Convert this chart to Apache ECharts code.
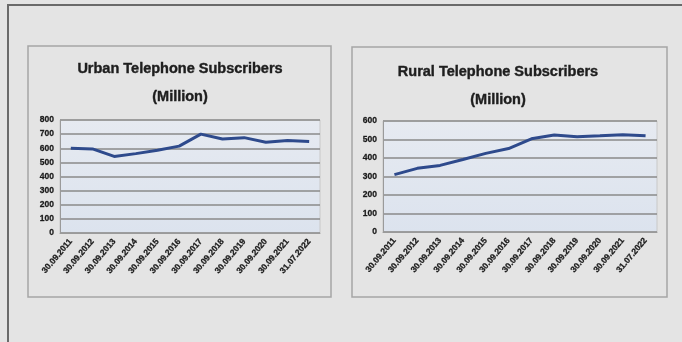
<!DOCTYPE html>
<html><head><meta charset="utf-8">
<script src="https://cdn.jsdelivr.net/npm/echarts@6/dist/echarts.min.js"></script>
<style>html,body{margin:0;padding:0;background:#e4e4e4}#c{width:682px;height:342px}</style>
</head><body><div id="c"></div>
<script>
const categories = ["30.09.2011","30.09.2012","30.09.2013","30.09.2014","30.09.2015","30.09.2016","30.09.2017","30.09.2018","30.09.2019","30.09.2020","30.09.2021","31.07.2022"];
const urbanValues = [600, 595, 542, 562, 586, 615, 700, 665, 675, 643, 655, 648];
const ruralValues = [310, 344, 360, 392, 425, 451, 504, 524, 515, 520, 526, 520];
const urbanTitle = "Urban Telephone Subscribers\n(Million)";
const ruralTitle = "Rural Telephone Subscribers\n(Million)";

const chart = echarts.init(document.getElementById('c'), null, {renderer:'canvas'});
const FONT = "'Liberation Sans', Arial, sans-serif";
const lineColor = '#2e4a8c';
function xAxis(i){return {type:'category', gridIndex:i, data:categories, boundaryGap:true,
  axisLine:{show:true,lineStyle:{color:'#9a9a9a',width:1}}, axisTick:{show:false},
  axisLabel:{rotate:50, fontSize:8.5, fontWeight:'bold', color:'#1a1a1a', fontFamily:FONT, margin:7, interval:0,
    textBorderColor:'#333', textBorderWidth:0.3}};}
function yAxis(i,max){return {type:'value', gridIndex:i, min:0, max:max, interval:100,
  axisLine:{show:true,lineStyle:{color:'#9a9a9a'}}, axisTick:{show:false},
  splitLine:{lineStyle:{color:'#8a8a8a',width:1.5}},
  axisLabel:{fontSize:8.5, fontWeight:'bold', color:'#1a1a1a', fontFamily:FONT, margin:6,
    textBorderColor:'#333', textBorderWidth:0.3}};}
const plotBg = new echarts.graphic.LinearGradient(0,0,0,1,[{offset:0,color:'#e6eaf1'},{offset:1,color:'#dce3ee'}]);
const titleStyle = {fontSize:14.5, fontWeight:'bold', color:'#1e1e1e', fontFamily:FONT, lineHeight:28, textBorderColor:'#1e1e1e', textBorderWidth:0.4};
chart.setOption({
  backgroundColor:'#e4e4e4',
  animation:false,
  graphic:[
    {type:'line', shape:{x1:7,y1:5,x2:682,y2:5}, style:{stroke:'#6a6a6a',lineWidth:2}},
    {type:'line', shape:{x1:8,y1:5,x2:8,y2:342}, style:{stroke:'#6a6a6a',lineWidth:2}},
    {type:'rect', shape:{x:28,y:46,width:303,height:251}, style:{fill:'none',stroke:'#a5a5a5',lineWidth:1.5}, z:-1},
    {type:'rect', shape:{x:352,y:47,width:315,height:250}, style:{fill:'none',stroke:'#a5a5a5',lineWidth:1.5}, z:-1}
  ],
  title:[
    {text:urbanTitle, left:180, top:55, padding:0, textAlign:'center', textStyle:titleStyle},
    {text:ruralTitle, left:498, top:58, padding:0, textAlign:'center', textStyle:titleStyle}
  ],
  grid:[
    {left:60, top:120, width:260, height:113, show:true, backgroundColor:plotBg, borderColor:'#c8c8c8', borderWidth:1},
    {left:383, top:121, width:274, height:111, show:true, backgroundColor:plotBg, borderColor:'#c8c8c8', borderWidth:1}
  ],
  xAxis:[xAxis(0), xAxis(1)],
  yAxis:[yAxis(0,800), yAxis(1,600)],
  series:[
    {type:'line', xAxisIndex:0, yAxisIndex:0, data:urbanValues, showSymbol:false, lineStyle:{color:lineColor,width:3}},
    {type:'line', xAxisIndex:1, yAxisIndex:1, data:ruralValues, showSymbol:false, lineStyle:{color:lineColor,width:3}}
  ]
});
</script></body></html>
